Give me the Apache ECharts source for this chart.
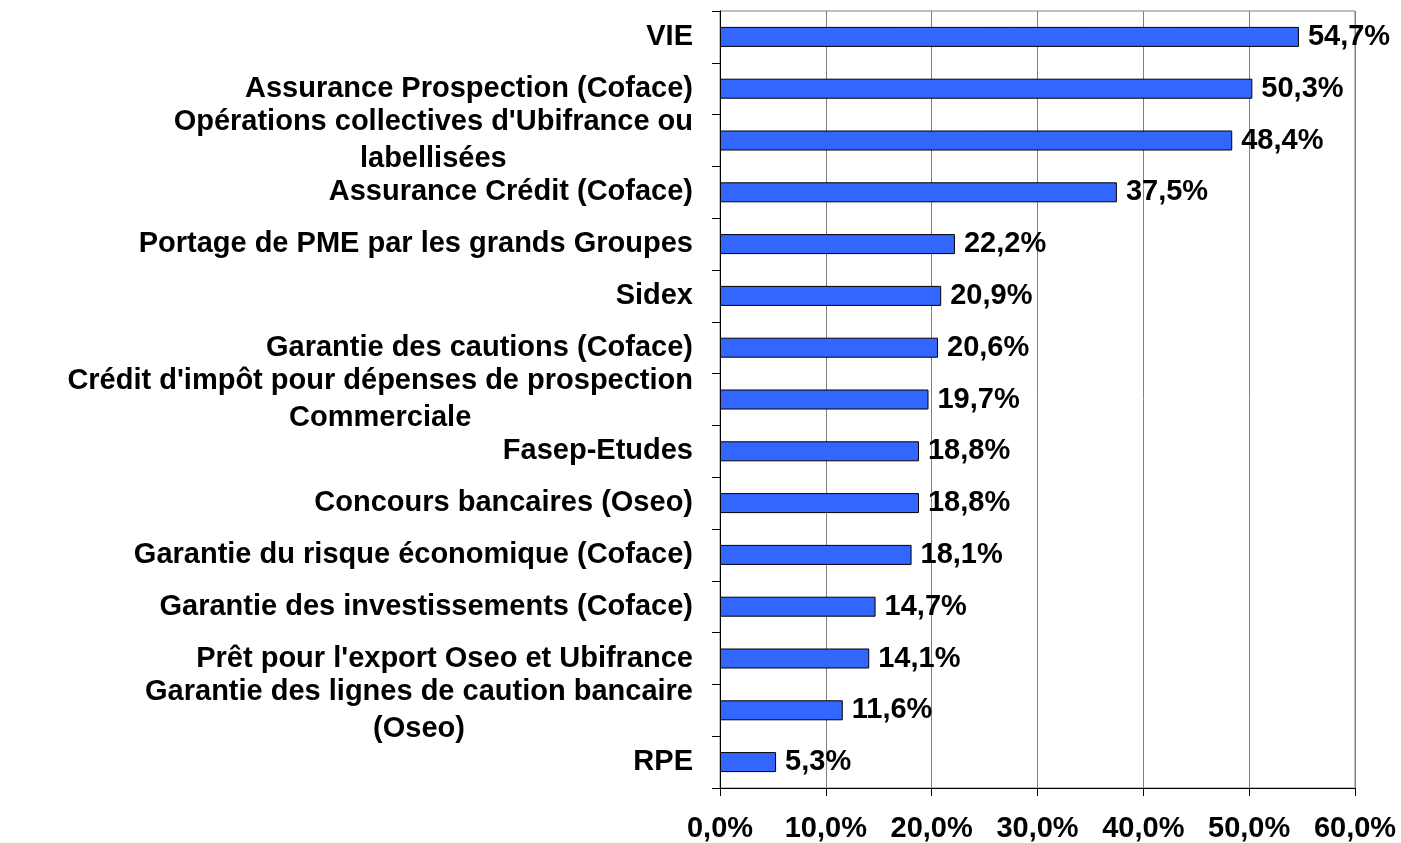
<!DOCTYPE html>
<html>
<head>
<meta charset="utf-8">
<script src="https://cdn.jsdelivr.net/npm/echarts@6/dist/echarts.min.js"></script>
<style>
  html, body { margin: 0; padding: 0; background: #fff; }
  #main { width: 1401px; height: 843px; }
</style>
</head>
<body>
<div id="main"></div>
<script>
// categories, top to bottom
const categories = [
    "VIE",
    "Assurance Prospection (Coface)",
    "Opérations collectives d'Ubifrance ou\nlabellisées",
    "Assurance Crédit (Coface)",
    "Portage de PME par les grands Groupes",
    "Sidex",
    "Garantie des cautions (Coface)",
    "Crédit d'impôt pour dépenses de prospection\nCommerciale",
    "Fasep-Etudes",
    "Concours bancaires (Oseo)",
    "Garantie du risque économique (Coface)",
    "Garantie des investissements (Coface)",
    "Prêt pour l'export Oseo et Ubifrance",
    "Garantie des lignes de caution bancaire\n(Oseo)",
    "RPE"
]
const values = [54.7, 50.3, 48.4, 37.5, 22.2, 20.9, 20.6, 19.7, 18.8, 18.8, 18.1, 14.7, 14.1, 11.6, 5.3]
const xMin = 0
const xMax = 60
const xStep = 10

const font = '"Liberation Sans", Arial, sans-serif'
const fontSize = 29
const pct = (v, d) => v.toFixed(d).replace(".", ",") + "%"

const myChart = echarts.init(document.getElementById("main"), null, { renderer: "canvas" })
const option = {
    animation: false,
    grid: {
        left: 720,
        right: 46,
        top: 11,
        bottom: 55,
        show: true,
        borderColor: "#808080",
        borderWidth: 1,
    },
    xAxis: {
        type: "value",
        min: xMin,
        max: xMax,
        interval: xStep,
        axisLine: { show: true, lineStyle: { color: "#000", width: 1 } },
        axisTick: { show: true, length: 8, lineStyle: { color: "#000" } },
        splitLine: { show: true, lineStyle: { color: "#808080", width: 1 } },
        axisLabel: {
            margin: 26,
            color: "#000",
            fontFamily: font,
            fontWeight: "bold",
            fontSize,
            formatter: (v) => pct(v, 1),
        },
    },
    yAxis: {
        type: "category",
        data: categories,
        inverse: true,
        axisLine: { show: true, lineStyle: { color: "#000", width: 1 } },
        axisTick: { show: true, length: 8, lineStyle: { color: "#000" } },
        splitLine: { show: false },
        axisLabel: {
            interval: 0,
            margin: 27,
            color: "#000",
            fontFamily: font,
            fontWeight: "bold",
            fontSize,
            lineHeight: 37,
            formatter: (v) => v.split("\n").map((s) => "{c|" + s + "}").join("\n"),
            rich: {
                c: {
                    align: "center",
                    color: "#000",
                    fontFamily: font,
                    fontWeight: "bold",
                    fontSize,
                    lineHeight: 37,
                },
            },
        },
    },
    series: [
        {
            type: "bar",
            data: values,
            barWidth: 20,
            itemStyle: { color: "#3366FF", borderColor: "#000", borderWidth: 1 },
            label: {
                show: true,
                position: "right",
                distance: 9,
                color: "#000",
                fontFamily: font,
                fontWeight: "bold",
                fontSize,
                formatter: (p) => pct(p.value, 1),
            },
        },
    ],
}
myChart.setOption(option)
</script>
</body>
</html>
